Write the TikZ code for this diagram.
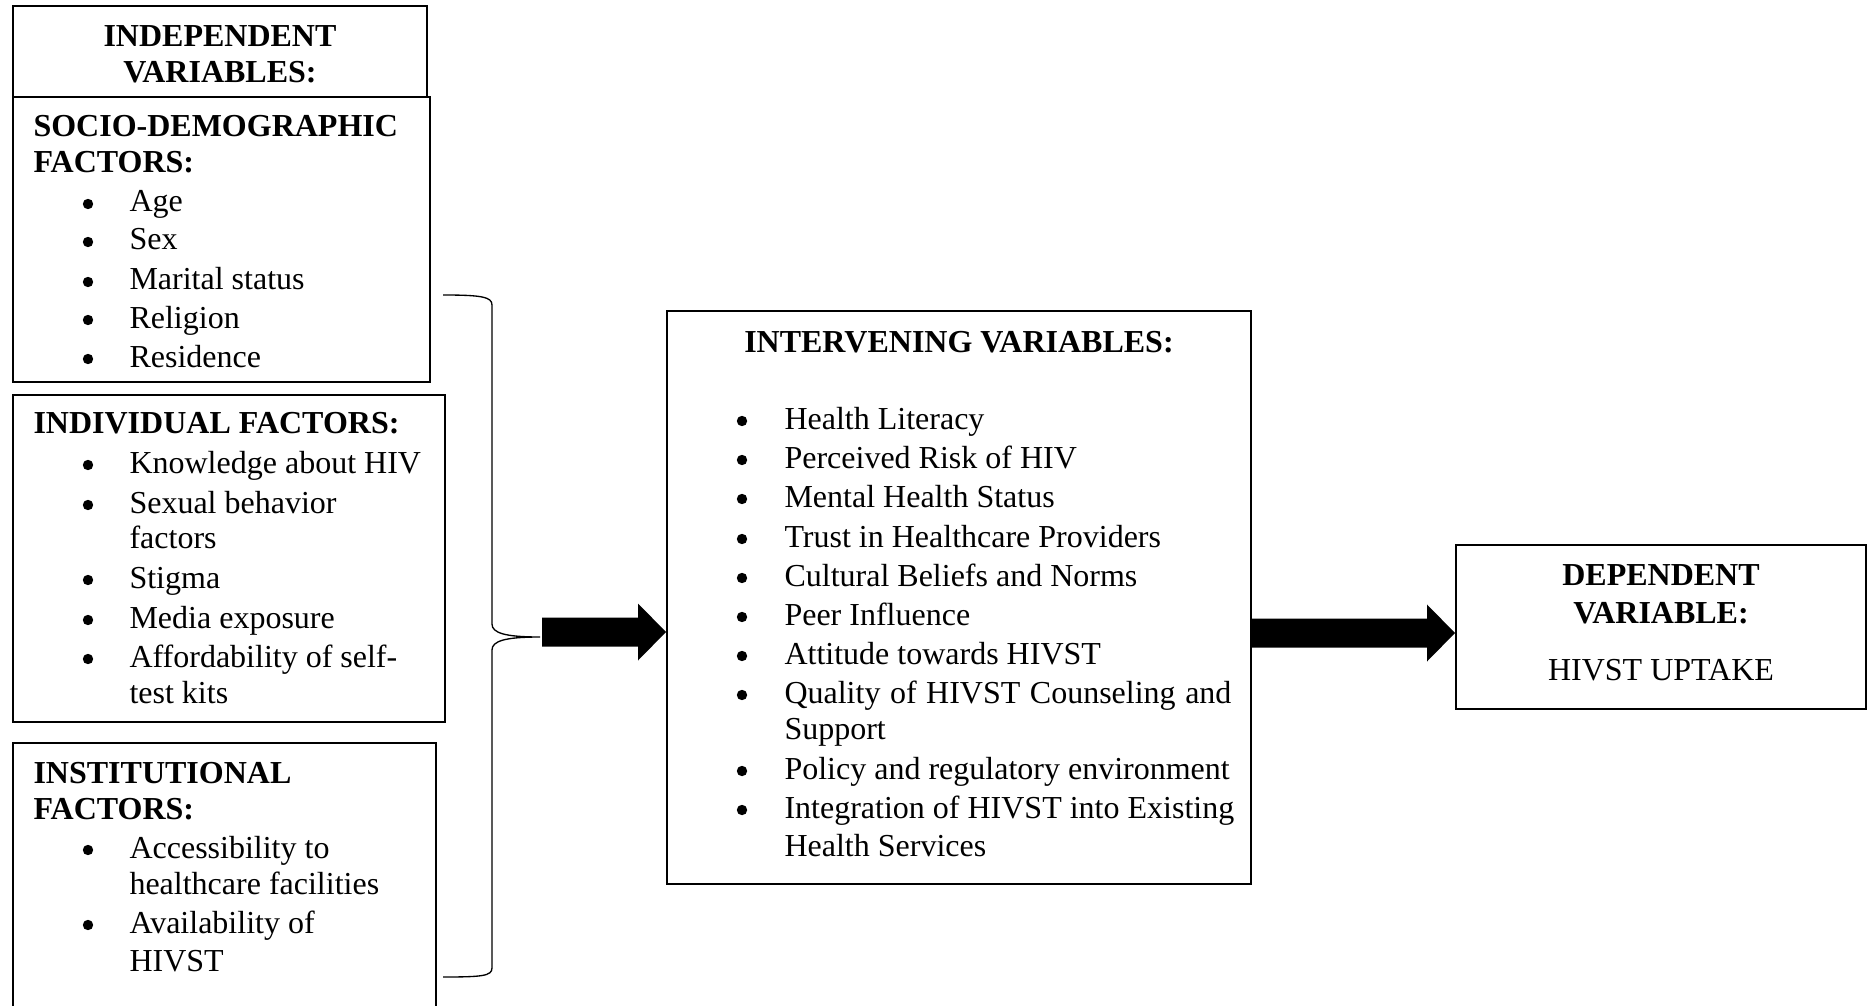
\documentclass[tikz,border=0pt]{standalone}
\usepackage{fontspec}
\setmainfont{Liberation Serif}
\usetikzlibrary{fit,calc}
\newcommand\blockarr[2]{%
  \fill[black] ($(#1)+(0,-14.5)$) -- ($(#2)+(-28,-14.5)$) -- ($(#2)+(-28,-28.5)$) -- (#2)
     -- ($(#2)+(-28,28.5)$) -- ($(#2)+(-28,14.5)$) -- ($(#1)+(0,14.5)$) -- cycle;}
\begin{document}
\begin{tikzpicture}[x=0.375pt,y=-0.375pt,
  box/.style={draw, line width=0.75pt, inner sep=0pt},
  txt/.style={inner sep=0pt, anchor=base west, font=\fontsize{12}{14.4}\selectfont},
  ttl/.style={inner sep=0pt, anchor=base west, font=\fontsize{12}{14.4}\selectfont\bfseries},
  ctr/.style={inner sep=0pt, anchor=base, font=\fontsize{12}{14.4}\selectfont},
  ctrb/.style={inner sep=0pt, anchor=base, font=\fontsize{12}{14.4}\selectfont\bfseries},
  bul/.style={circle, fill=black, inner sep=0pt, minimum size=3.9pt},
  bracepath/.style={line width=0.5pt}]
\useasboundingbox (0,0) rectangle (1872,1006);

% boxes
\node[box, fit={(13,6) (427,97)}] (indep) {};
\node[box, fit={(13,97) (430,382)}] (socio) {};
\node[box, fit={(13,395) (445,722)}] (indiv) {};
\coordinate (instTL) at (13,743);
\coordinate (instTR) at (436,743);
\draw[line width=0.75pt] (instTL |- 0,1006) -- (instTL) -- (instTR) -- (instTR |- 0,1006);
\node[box, fit={(667,311) (1251,884)}] (inter) {};
\node[box, fit={(1456,545) (1866,709)}] (dep) {};

% independent title
\node[ctrb] (indepA) at (220,47) {INDEPENDENT};
\node[ctrb] (indepB) at (220,83) {VARIABLES:};

% socio-demographic
\node[ttl] (socA) at (33,137) {SOCIO-DEMOGRAPHIC};
\node[ttl] (socB) at (33,173) {FACTORS:};
\foreach \y/\t [count=\k] in {212/Age, 250/Sex, 290/Marital status, 328/Religion, 367/Residence}{
  \node[bul] (sb\k) at (88,{\y-8}) {};
  \node[txt] (st\k) at (129,\y) {\t};
}

% individual
\node[ttl] (indA) at (33,433) {INDIVIDUAL FACTORS:};
\foreach \y/\t [count=\k] in {473/Knowledge about HIV, 513/Sexual behavior, 588/Stigma, 628/Media exposure, 667/Affordability of self-}{
  \node[bul] (ib\k) at (88,{\y-8}) {};
  \node[txt] (it\k) at (129,\y) {\t};
}
\node[txt] (itc1) at (129,548) {factors};
\node[txt] (itc2) at (129,703) {test kits};

% institutional
\node[ttl] (insA) at (33,783) {INSTITUTIONAL};
\node[ttl] (insB) at (33,819) {FACTORS:};
\foreach \y/\t [count=\k] in {858/Accessibility to, 933/Availability of}{
  \node[bul] (nb\k) at (88,{\y-8}) {};
  \node[txt] (nt\k) at (129,\y) {\t};
}
\node[txt] (ntc1) at (129,894) {healthcare facilities};
\node[txt] (ntc2) at (129,971) {HIVST};

% intervening
\node[ctrb] (intA) at (959,352) {INTERVENING VARIABLES:};
\foreach \y/\t [count=\k] in {429/Health Literacy, 468/Perceived Risk of HIV, 507/Mental Health Status, 547/Trust in Healthcare Providers, 586/Cultural Beliefs and Norms, 625/Peer Influence, 664/Attitude towards HIVST, 703/{\makebox[167.6pt][s]{Quality of HIVST Counseling and}}, 779/Policy and regulatory environment, 818/Integration of HIVST into Existing}{
  \node[bul] (vb\k) at (742,{\y-8}) {};
  \node[txt] (vt\k) at (784,\y) {\t};
}
\node[txt] (vtc1) at (784,739) {Support};
\node[txt] (vtc2) at (784,856) {Health Services};

% dependent
\node[ctrb] (depA) at (1661,585) {DEPENDENT};
\node[ctrb] (depB) at (1661,623) {VARIABLE:};
\node[ctr] (depC) at (1661,680) {HIVST UPTAKE};

% brace
\coordinate (brT) at (443,295);
\coordinate (brTip) at (540,637);
\coordinate (brB) at (443,977);
\draw[bracepath] (brT) .. controls (482,295) and (492,297) .. (492,305) -- (492,624)
  .. controls (492,633) and (505,637) .. (brTip)
  .. controls (505,637) and (492,641) .. (492,650) -- (492,968)
  .. controls (492,976) and (482,977) .. (brB);

% block arrows
\coordinate (a1s) at (542,632);
\coordinate (a1t) at (inter.west |- a1s);
\blockarr{a1s}{a1t}
\coordinate (a2s) at (inter.east |- 0,633);
\coordinate (a2t) at (dep.west |- a2s);
\blockarr{a2s}{a2t}
\end{tikzpicture}
\end{document}
